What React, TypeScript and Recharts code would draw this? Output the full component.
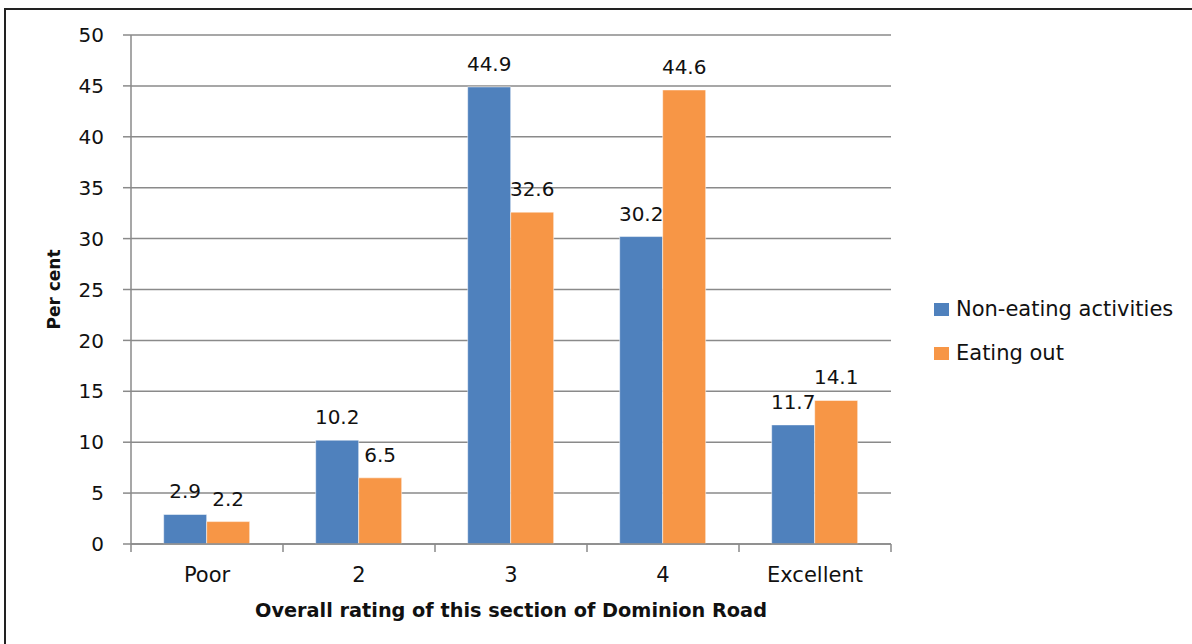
import React from 'react';
import { BarChart, Bar, XAxis, YAxis, CartesianGrid, LabelList, Legend } from 'recharts';

const categories = ['Poor', '2', '3', '4', 'Excellent'];
const nonEating = [2.9, 10.2, 44.9, 30.2, 11.7];
const eatingOut = [2.2, 6.5, 32.6, 44.6, 14.1];
const yTicks = [0, 5, 10, 15, 20, 25, 30, 35, 40, 45, 50];
const seriesNames = ['Non-eating activities', 'Eating out'];
const seriesColors = ['#4F81BD', '#F79646'];
const xTitle = 'Overall rating of this section of Dominion Road';
const yTitle = 'Per cent';

const data = categories.map((c, i) => ({
  category: c,
  nonEating: nonEating[i],
  eatingOut: eatingOut[i],
}));

const FONT = '"DejaVu Sans", sans-serif';
const GRAY = '#8a8a8a';
const W = 1192;
const H = 644;
const MARGIN = { top: 35, right: 301, left: 40, bottom: 0 };
const Y_WIDTH = 91;
const X_HEIGHT = 100;
const PLOT_W = W - MARGIN.left - Y_WIDTH - MARGIN.right;
const BAND = PLOT_W / categories.length;
const PLOT_BOTTOM = H - MARGIN.bottom - X_HEIGHT;

const XTick = (props: any) => {
  const { x, payload } = props;
  const half = BAND / 2;
  const isLast = payload && payload.value === categories[categories.length - 1];
  return (
    <g>
      <line x1={x - half} x2={x - half} y1={PLOT_BOTTOM} y2={PLOT_BOTTOM + 8} stroke={GRAY} strokeWidth={1.5} />
      {isLast && (
        <line x1={x + half} x2={x + half} y1={PLOT_BOTTOM} y2={PLOT_BOTTOM + 8} stroke={GRAY} strokeWidth={1.5} />
      )}
      <text x={x} y={PLOT_BOTTOM + 37.5} textAnchor="middle" fontFamily={FONT} fontSize={21} fill="#111">
        {payload.value}
      </text>
    </g>
  );
};

const LegendContent = () => (
  <div style={{ fontFamily: FONT, fontSize: 21, color: '#111' }}>
    {seriesNames.map((n, i) => (
      <div key={n} style={{ display: 'flex', alignItems: 'center', height: 44, whiteSpace: 'nowrap' }}>
        <div style={{ width: 15, height: 13, background: seriesColors[i], marginRight: 7 }} />
        <span>{n}</span>
      </div>
    ))}
  </div>
);

export default function App() {
  return (
    <div style={{ position: 'absolute', left: 0, top: 0, width: W, height: H, overflow: 'hidden', background: '#fff' }}>
      <div
        style={{
          position: 'absolute',
          left: 4,
          top: 8,
          width: 1250,
          height: 700,
          border: '2px solid #222',
          boxSizing: 'border-box',
        }}
      />
      <div style={{ position: 'absolute', left: 0, top: 0 }}>
        <BarChart
          width={W}
          height={H}
          data={data}
          margin={MARGIN}
          barCategoryGap="21.5%"
          barGap={0}
        >
          <CartesianGrid vertical={false} stroke={GRAY} strokeWidth={1.5} />
          <XAxis
            dataKey="category"
            height={X_HEIGHT}
            axisLine={{ stroke: GRAY, strokeWidth: 1.5 }}
            tickLine={false}
            tickSize={0}
            tick={<XTick />}
            interval={0}
            label={(p: any) => {
              const vb = p.viewBox || {};
              return (
                <text
                  x={vb.x + vb.width / 2}
                  y={PLOT_BOTTOM + 72.5}
                  textAnchor="middle"
                  fontFamily={FONT}
                  fontWeight="bold"
                  fontSize={19.3}
                  fill="#111"
                >
                  {xTitle}
                </text>
              );
            }}
          />
          <YAxis
            width={Y_WIDTH}
            domain={[0, 50]}
            ticks={yTicks}
            interval={0}
            axisLine={{ stroke: GRAY, strokeWidth: 1.5 }}
            tickLine={{ stroke: GRAY, strokeWidth: 1.5 }}
            tickSize={8}
            tickMargin={19}
            tick={{ fontFamily: FONT, fontSize: 20, fill: '#111' }}
            label={(p: any) => {
              const vb = p.viewBox || {};
              const cx = vb.x + 14;
              const cy = vb.y + vb.height / 2;
              return (
                <text
                  x={cx}
                  y={cy}
                  transform={`rotate(-90 ${cx} ${cy})`}
                  textAnchor="middle"
                  dominantBaseline="central"
                  fontFamily={FONT}
                  fontWeight="bold"
                  fontSize={17}
                  fill="#111"
                >
                  {yTitle}
                </text>
              );
            }}
          />
          <Legend
            layout="vertical"
            align="center"
            verticalAlign="middle"
            content={<LegendContent />}
            wrapperStyle={{ left: 934, top: 287, width: 258 }}
          />
          <Bar dataKey="nonEating" name={seriesNames[0]} fill={seriesColors[0]} stroke="rgba(255,255,255,0.5)" strokeWidth={1} isAnimationActive={false}>
            <LabelList dataKey="nonEating" position="top" offset={16} fontFamily={FONT} fontSize={20} fill="#111" />
          </Bar>
          <Bar dataKey="eatingOut" name={seriesNames[1]} fill={seriesColors[1]} stroke="rgba(255,255,255,0.5)" strokeWidth={1} isAnimationActive={false}>
            <LabelList dataKey="eatingOut" position="top" offset={16} fontFamily={FONT} fontSize={20} fill="#111" />
          </Bar>
        </BarChart>
      </div>
    </div>
  );
}
